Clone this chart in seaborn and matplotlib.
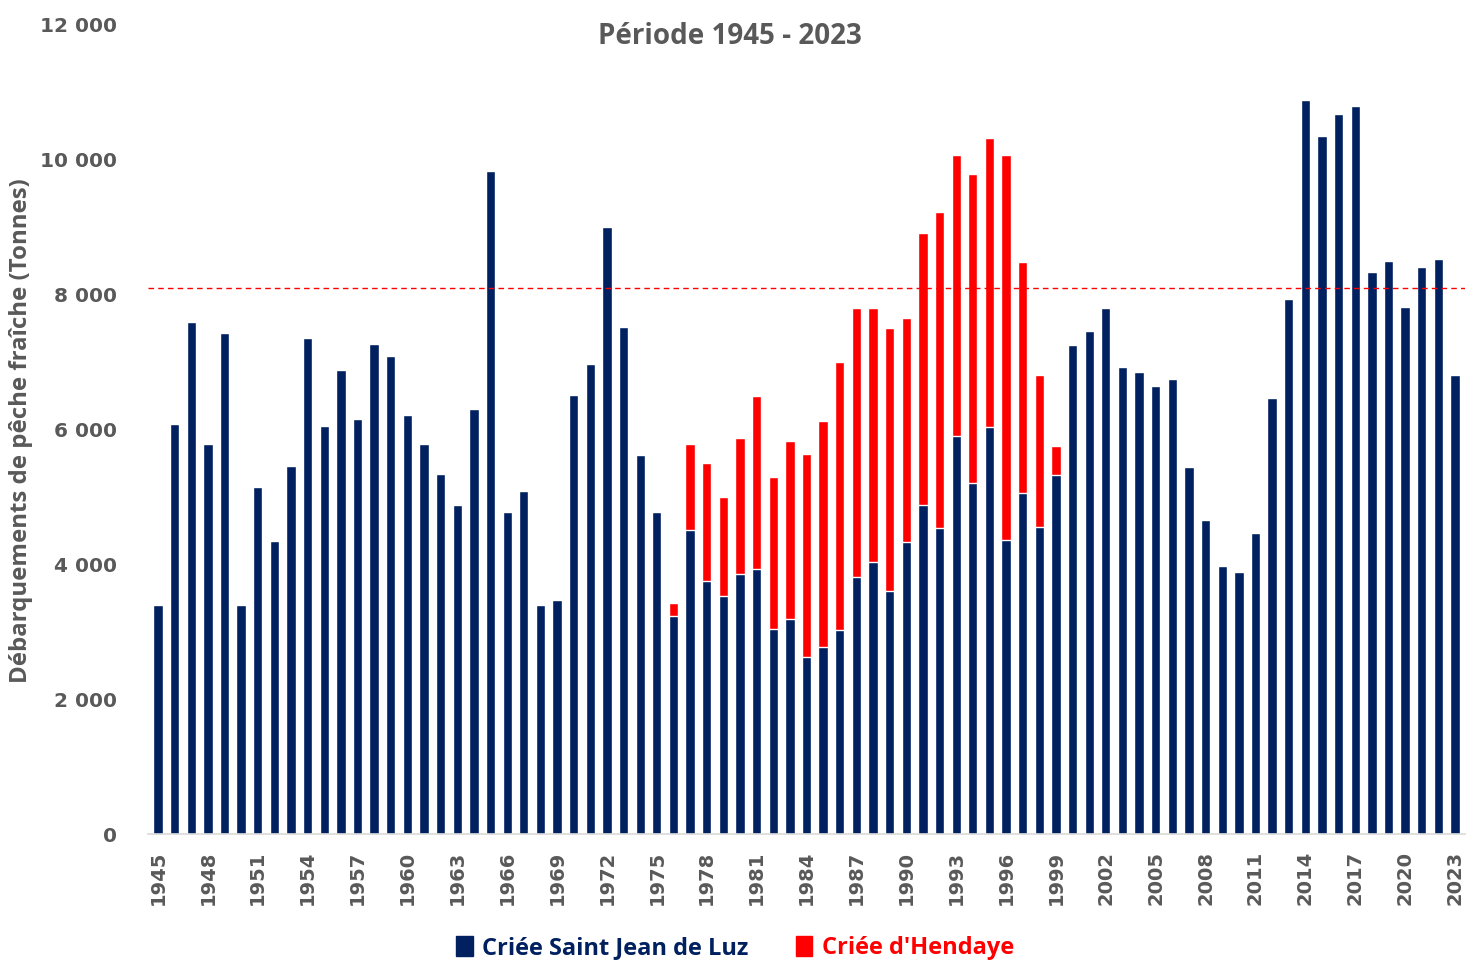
import matplotlib
matplotlib.use("Agg")
import matplotlib.pyplot as plt
import seaborn as sns
import pandas as pd
import numpy as np
from matplotlib.patches import Patch

years = list(range(1945, 2024))
luz = [3400, 6080, 7590, 5780, 7430, 3400, 5140, 4340, 5460, 7360,
       6050, 6880, 6150, 7270, 7085, 6215, 5780, 5345, 4885, 6310,
       9835, 4770, 5095, 3400, 3465, 6510, 6970, 9010, 7520, 5620,
       4770, 3230, 4510, 3760, 3530, 3850, 3930, 3040, 3190, 2630,
       2770, 3020, 3810, 4030, 3600, 4330, 4880, 4540, 5900, 5200,
       6040, 4360, 5060, 4550, 5330, 7250, 7455, 7800, 6925, 6860,
       6650, 6745, 5440, 4665, 3970, 3880, 4470, 6470, 7940, 10890,
       10360, 10685, 10800, 8330, 8505, 7820, 8415, 8530, 6815]
hendaye_years = list(range(1976, 2000))
hendaye_vals = [190, 1270, 1750, 1470, 2030, 2560, 2260, 2640, 3010, 3350,
                3980, 3990, 3770, 3900, 3330, 4040, 4680, 4170, 4590, 4280,
                5710, 3430, 2260, 430]
reference_level = 8100
y_ticks = [0, 2000, 4000, 6000, 8000, 10000, 12000]
y_tick_labels = ["0", "2 000", "4 000", "6 000", "8 000", "10 000", "12 000"]
label_years = list(range(1945, 2024, 3))

navy = "#002060"
red = "#FF0000"
gray = "#595959"

hend_map = dict(zip(hendaye_years, hendaye_vals))
df = pd.DataFrame({"year": [str(y) for y in years], "luz": luz})
df["hend"] = [hend_map.get(y, 0) for y in years]
df["total"] = df["luz"] + df["hend"]

sns.set_style("white")
plt.rcParams["font.family"] = ["DejaVu Sans"]

fig = plt.figure(figsize=(14.73, 9.66), dpi=100)
ax = fig.add_axes([148/1473, 1-834/966, (1465-148)/1473, (834-25)/966])

sns.barplot(data=df, x="year", y="total", color=red, saturation=1, width=0.56, ax=ax)
sns.barplot(data=df, x="year", y="luz", color=navy, saturation=1, width=0.56, ax=ax)

ax.axhline(reference_level, color=red, lw=1.0, ls=(0, (4, 3)), zorder=5)

ax.set_xlim(-0.6, len(years) - 0.4)
ax.set_ylim(0, 12000)
ax.set_yticks(y_ticks)
ax.set_yticklabels(y_tick_labels, fontsize=14.5, fontweight="bold", color=gray)
pos = [years.index(y) for y in label_years]
ax.set_xticks(pos)
ax.set_xticklabels([str(y) for y in label_years], rotation=90, fontsize=14,
                   fontweight="bold", color=gray)
ax.tick_params(axis="y", length=0, pad=22)
ax.tick_params(axis="x", length=0, pad=12)
ax.set_xlabel("")
ax.set_ylabel("")
for s in ["left", "right", "top"]:
    ax.spines[s].set_visible(False)
ax.spines["bottom"].set_color("#D9D9D9")
ax.spines["bottom"].set_linewidth(1.2)

fig.text(730/1473, 1-37/966, "Période 1945 - 2023", ha="center", va="center",
         fontsize=20, fontweight="bold", color=gray, family="Open Sans")
fig.text(21/1473, 1-431/966, "Débarquements de pêche fraîche (Tonnes)", rotation=90,
         ha="center", va="center", fontsize=17.3, fontweight="bold", color=gray,
         family="Open Sans")

handles = [Patch(color=navy), Patch(color=red)]
leg = fig.legend(handles, ["Criée Saint Jean de Luz", "Criée d'Hendaye"],
                 loc="center", bbox_to_anchor=(735/1473, 1-948/966), ncol=2,
                 frameon=False, handlelength=0.7, handleheight=0.95,
                 handletextpad=0.4, columnspacing=2.0,
                 prop={"family": "Open Sans", "weight": "bold", "size": 17})
for t, c in zip(leg.get_texts(), [navy, red]):
    t.set_color(c)

fig.savefig("out.png", dpi=100)
